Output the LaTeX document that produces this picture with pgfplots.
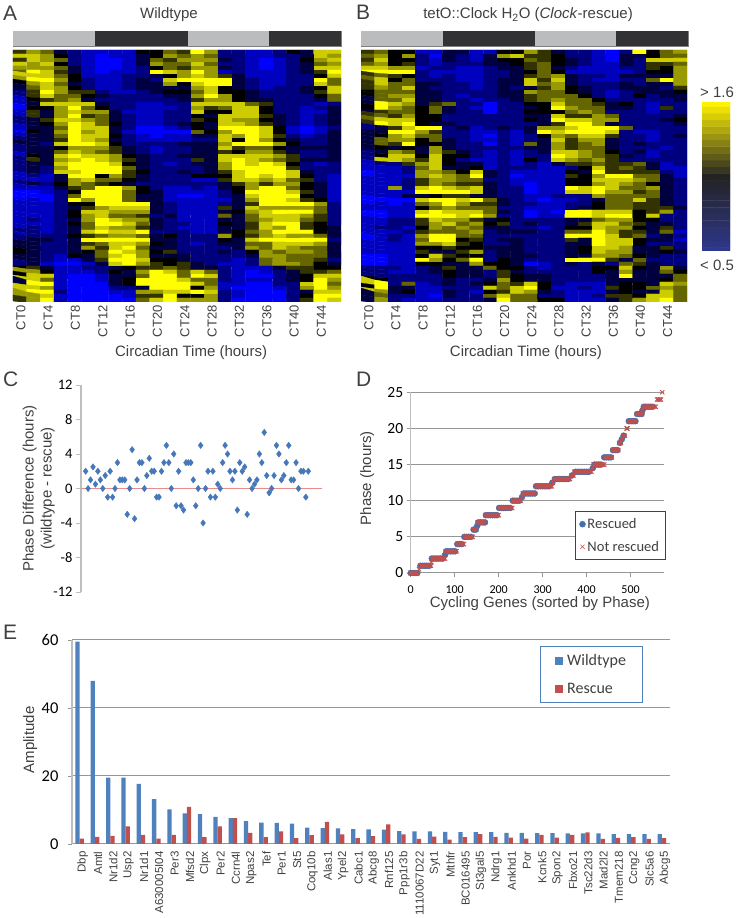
\documentclass[border=0pt]{standalone}
\usepackage{fontspec}
\usepackage{pgfplots}
\usepackage{pgfplotstable}
\pgfplotsset{compat=1.18}
\setmainfont{Liberation Sans}
\newfontfamily\carlito{Carlito}
\definecolor{txt}{RGB}{64,64,64}
\definecolor{dayc}{RGB}{187,188,190}
\definecolor{nightc}{RGB}{50,50,52}
\definecolor{barb}{RGB}{79,129,189}
\definecolor{barr}{RGB}{192,80,77}
\definecolor{ptb}{RGB}{70,120,185}
\definecolor{ptr}{RGB}{235,140,140}
\definecolor{gridc}{RGB}{150,150,150}
\definecolor{axc}{RGB}{190,190,190}
\newcommand\PP[2]{({#1*1pt},{(918-#2)*1pt})}
\newcommand\fs[1]{\fontsize{#1}{#1}\selectfont}
\pgfplotsset{
  colormap={heatm}{rgb255(0)=(0,0,255) rgb255(4)=(0,0,0) rgb255(9)=(255,255,0)},
  colormap={cbarm}{rgb255(0)=(46,56,140) rgb255(10)=(35,35,35) rgb255(20)=(255,242,0)},
  heat/.style={scale only axis, anchor=north west, y dir=reverse,
    xmin=-0.5, xmax=23.5, ymin=-0.5, ymax=62.5, height=252pt,
    axis line style={draw=none}, ytick=\empty,
    xtick={0,2,...,22}, xticklabels={CT0,CT4,CT8,CT12,CT16,CT20,CT24,CT28,CT32,CT36,CT40,CT44},
    major tick length=0pt,
    xticklabel style={rotate=90, anchor=east, font=\fs{13}, text=txt, yshift=-1pt},
    colormap name=heatm, point meta min=0, point meta max=9,
    xlabel={Circadian Time (hours)},
    xlabel style={font=\fs{15}, text=txt, anchor=center}},
  heatplot/.style={matrix plot*, shader=faceted, faceted color=mapped color, line width=0.3pt, mesh/cols=24, point meta=\thisrowno{0}},
  daybar/.style={scale only axis, anchor=north west, height=15pt, xmin=0, xmax=48,
    ymin=-0.5, ymax=0.5, xbar stacked, bar width=15pt, ticks=none,
    axis line style={draw=gray, line width=0.8pt}},
}
\begin{document}
\begin{tikzpicture}[x=1pt,y=1pt]
\useasboundingbox (0,0) rectangle (738,918);
% panel letters
\foreach \l/\x/\y in {A/3/21,B/356/20,C/3/387,D/356/387,E/3/640}
  \node[anchor=base west,inner sep=0pt,text=txt,font=\fs{21}] at \PP{\x}{\y} {\l};
\node[text=txt,font=\fs{15}] at \PP{169}{15} {Wildtype};
\node[text=txt,font=\fs{15}] at \PP{528}{15} {tetO::Clock H\textsubscript{2}O (\textit{Clock}-rescue)};
% day-night bars
\begin{axis}[daybar, at={(13pt,887pt)}, width=328pt]
\addplot[fill=dayc,draw=none] coordinates {(12,0)};
\addplot[fill=nightc,draw=none] coordinates {(13.6,0)};
\addplot[fill=dayc,draw=none] coordinates {(11.9,0)};
\addplot[fill=nightc,draw=none] coordinates {(10.5,0)};
\end{axis}
\begin{axis}[daybar, at={(361pt,887pt)}, width=327pt]
\addplot[fill=dayc,draw=none] coordinates {(12,0)};
\addplot[fill=nightc,draw=none] coordinates {(13.6,0)};
\addplot[fill=dayc,draw=none] coordinates {(11.9,0)};
\addplot[fill=nightc,draw=none] coordinates {(10.5,0)};
\end{axis}
% heatmap A
\begin{axis}[heat, at={(13pt,868pt)}, width=328pt,
  xlabel style={at={(axis description cs:0.543,-0.2)}}]
\addplot[heatplot] table[header=false, row sep=crcr, x expr={mod(\coordindex,24)}, y expr={floor(\coordindex/24)}] {
5\\7\\6\\3\\2\\1\\1\\1\\1\\4\\4\\6\\5\\9\\7\\2\\2\\1\\1\\2\\4\\3\\8\\8\\
8\\8\\7\\4\\2\\1\\0\\1\\1\\3\\4\\7\\6\\7\\6\\2\\2\\1\\1\\2\\2\\3\\8\\7\\
5\\8\\7\\6\\2\\1\\0\\0\\1\\3\\6\\5\\7\\7\\7\\3\\2\\1\\0\\1\\2\\4\\7\\8\\
8\\7\\8\\4\\2\\1\\0\\0\\1\\3\\7\\6\\6\\8\\6\\2\\2\\1\\0\\1\\2\\3\\6\\7\\
7\\7\\7\\6\\3\\1\\0\\0\\1\\2\\4\\6\\5\\7\\7\\3\\2\\1\\0\\1\\2\\3\\8\\8\\
6\\9\\8\\5\\3\\1\\0\\1\\1\\2\\9\\8\\7\\9\\7\\1\\2\\1\\1\\1\\2\\3\\5\\9\\
8\\8\\8\\6\\4\\1\\1\\1\\2\\2\\3\\4\\7\\8\\7\\5\\3\\1\\1\\1\\2\\2\\4\\8\\
7\\9\\9\\7\\4\\2\\1\\1\\2\\3\\2\\8\\9\\9\\9\\9\\3\\2\\1\\1\\2\\2\\9\\6\\
4\\7\\8\\6\\3\\2\\1\\1\\2\\3\\3\\7\\4\\8\\9\\9\\3\\2\\1\\1\\2\\2\\8\\6\\
3\\6\\8\\7\\4\\2\\1\\1\\2\\3\\3\\3\\3\\7\\8\\4\\3\\2\\1\\2\\2\\3\\4\\8\\
2\\5\\9\\7\\5\\5\\2\\1\\1\\2\\3\\4\\4\\6\\8\\4\\4\\3\\2\\2\\2\\3\\5\\8\\
2\\5\\8\\6\\6\\4\\3\\2\\2\\2\\2\\3\\3\\7\\9\\7\\4\\3\\2\\2\\2\\2\\4\\6\\
1\\4\\5\\6\\7\\3\\2\\2\\2\\2\\2\\2\\3\\5\\7\\7\\4\\3\\3\\2\\2\\2\\3\\6\\
1\\3\\8\\8\\8\\8\\3\\2\\2\\1\\1\\2\\2\\8\\8\\8\\8\\6\\5\\2\\2\\2\\1\\2\\
0\\4\\4\\7\\9\\6\\4\\2\\2\\1\\1\\1\\2\\7\\5\\6\\8\\8\\4\\2\\2\\1\\2\\3\\
1\\5\\3\\7\\8\\7\\7\\3\\1\\1\\1\\2\\2\\8\\4\\4\\8\\8\\4\\2\\2\\1\\1\\3\\
1\\5\\3\\7\\9\\5\\6\\3\\2\\1\\1\\2\\2\\4\\3\\8\\8\\8\\5\\3\\2\\1\\2\\3\\
2\\3\\5\\8\\8\\7\\6\\3\\2\\1\\1\\2\\2\\5\\4\\8\\7\\7\\4\\3\\2\\1\\2\\3\\
2\\3\\4\\7\\9\\8\\6\\4\\2\\1\\1\\2\\3\\4\\3\\8\\8\\7\\5\\3\\2\\1\\2\\3\\
1\\3\\3\\6\\9\\8\\8\\3\\2\\0\\0\\1\\2\\4\\3\\9\\9\\9\\8\\4\\1\\0\\1\\2\\
0\\4\\3\\7\\9\\7\\8\\3\\1\\0\\0\\0\\0\\6\\4\\7\\9\\9\\8\\4\\1\\0\\1\\3\\
1\\3\\3\\6\\9\\8\\8\\4\\2\\1\\0\\1\\1\\3\\3\\8\\7\\9\\8\\5\\2\\1\\2\\3\\
2\\3\\3\\5\\9\\8\\7\\3\\2\\1\\1\\1\\1\\2\\2\\8\\4\\9\\7\\4\\3\\2\\2\\3\\
3\\3\\2\\8\\9\\9\\8\\4\\2\\2\\2\\2\\3\\3\\3\\7\\9\\9\\9\\7\\4\\2\\2\\3\\
2\\3\\3\\4\\7\\7\\7\\5\\3\\2\\1\\2\\2\\3\\3\\8\\5\\6\\6\\4\\3\\3\\3\\3\\
2\\3\\3\\6\\8\\7\\6\\5\\3\\2\\1\\2\\2\\3\\3\\5\\4\\7\\7\\5\\3\\2\\2\\3\\
1\\4\\3\\8\\9\\8\\8\\7\\4\\3\\2\\2\\3\\3\\3\\8\\8\\8\\8\\7\\5\\2\\2\\3\\
2\\5\\3\\7\\8\\9\\8\\7\\5\\3\\2\\2\\2\\5\\3\\8\\9\\8\\7\\6\\5\\3\\3\\3\\
2\\3\\3\\8\\9\\9\\9\\8\\4\\3\\2\\1\\2\\3\\3\\7\\9\\8\\9\\8\\4\\2\\1\\2\\
2\\3\\2\\7\\9\\9\\9\\9\\6\\3\\2\\2\\2\\2\\3\\7\\9\\9\\9\\9\\5\\2\\2\\2\\
2\\3\\2\\8\\8\\9\\9\\9\\5\\4\\2\\2\\3\\2\\3\\5\\8\\9\\9\\9\\8\\3\\2\\2\\
1\\2\\1\\3\\9\\9\\4\\7\\5\\3\\2\\2\\2\\4\\4\\4\\8\\9\\8\\9\\8\\4\\2\\1\\
1\\1\\1\\3\\7\\8\\6\\6\\4\\3\\2\\2\\2\\1\\1\\5\\8\\8\\7\\8\\6\\5\\2\\1\\
2\\3\\2\\4\\7\\6\\5\\4\\3\\2\\2\\2\\2\\2\\2\\3\\5\\7\\5\\7\\7\\4\\3\\1\\
1\\1\\1\\3\\5\\6\\9\\9\\7\\4\\2\\1\\1\\2\\1\\3\\4\\7\\9\\9\\6\\4\\3\\1\\
0\\0\\1\\2\\4\\9\\9\\9\\6\\4\\3\\1\\1\\1\\1\\2\\4\\9\\9\\9\\8\\5\\3\\1\\
0\\0\\0\\2\\6\\9\\9\\9\\6\\3\\3\\1\\0\\0\\1\\2\\3\\8\\9\\9\\9\\4\\3\\1\\
0\\1\\0\\2\\9\\7\\9\\9\\6\\3\\3\\1\\1\\1\\1\\1\\3\\7\\9\\9\\8\\5\\4\\1\\
1\\1\\1\\2\\4\\4\\9\\9\\9\\9\\3\\2\\1\\1\\1\\2\\3\\5\\9\\9\\9\\9\\7\\2\\
1\\1\\1\\2\\3\\5\\7\\8\\8\\8\\3\\2\\1\\1\\1\\5\\3\\8\\7\\7\\7\\7\\6\\2\\
1\\1\\1\\2\\4\\8\\8\\7\\7\\7\\3\\2\\1\\1\\1\\3\\4\\7\\8\\9\\9\\9\\6\\2\\
1\\1\\1\\2\\4\\7\\8\\6\\6\\5\\2\\3\\1\\1\\1\\6\\3\\6\\8\\8\\8\\7\\5\\2\\
1\\2\\1\\2\\3\\7\\9\\8\\7\\7\\3\\2\\1\\1\\1\\3\\3\\6\\7\\8\\8\\6\\5\\2\\
1\\1\\1\\2\\4\\6\\9\\9\\8\\6\\3\\2\\2\\1\\1\\4\\3\\5\\8\\9\\9\\5\\4\\2\\
1\\2\\1\\2\\3\\6\\8\\7\\7\\5\\3\\2\\1\\1\\1\\3\\3\\5\\8\\7\\9\\5\\4\\3\\
2\\2\\1\\2\\3\\8\\9\\8\\8\\9\\2\\2\\2\\1\\1\\3\\4\\6\\7\\9\\9\\9\\4\\3\\
1\\2\\2\\2\\4\\5\\6\\7\\7\\6\\3\\4\\2\\2\\2\\7\\4\\5\\7\\8\\7\\7\\6\\3\\
2\\3\\3\\2\\3\\9\\9\\9\\9\\9\\3\\3\\2\\2\\2\\4\\3\\8\\9\\9\\9\\9\\9\\2\\
3\\3\\2\\2\\3\\5\\6\\8\\8\\7\\4\\3\\2\\1\\2\\3\\3\\6\\6\\8\\8\\8\\7\\3\\
3\\3\\2\\2\\3\\7\\5\\8\\9\\6\\3\\3\\2\\2\\2\\2\\3\\7\\6\\8\\7\\6\\6\\3\\
4\\3\\2\\2\\3\\4\\6\\9\\8\\7\\4\\5\\2\\2\\2\\3\\2\\4\\7\\6\\7\\7\\6\\3\\
3\\3\\2\\1\\4\\3\\6\\8\\9\\7\\3\\3\\3\\2\\2\\2\\2\\3\\7\\7\\6\\6\\6\\3\\
3\\3\\2\\1\\1\\3\\5\\9\\9\\8\\4\\4\\3\\2\\2\\2\\1\\2\\6\\7\\6\\6\\5\\2\\
2\\3\\1\\0\\0\\1\\3\\8\\9\\7\\5\\4\\5\\3\\2\\1\\1\\2\\6\\7\\7\\6\\4\\3\\
4\\5\\3\\1\\1\\2\\2\\3\\4\\5\\5\\6\\5\\3\\3\\2\\1\\1\\1\\3\\5\\5\\4\\4\\
7\\7\\4\\1\\1\\1\\2\\4\\3\\7\\9\\8\\6\\8\\6\\2\\1\\0\\1\\2\\3\\5\\5\\6\\
4\\8\\8\\1\\0\\0\\1\\3\\3\\6\\9\\9\\6\\9\\8\\2\\1\\0\\0\\2\\3\\4\\8\\8\\
8\\8\\6\\1\\0\\0\\1\\3\\4\\9\\9\\9\\8\\6\\6\\2\\1\\1\\1\\2\\3\\4\\9\\7\\
3\\9\\9\\1\\0\\0\\0\\3\\4\\9\\9\\9\\9\\8\\6\\1\\1\\0\\0\\2\\2\\8\\9\\6\\
8\\8\\7\\1\\0\\0\\0\\2\\2\\3\\9\\9\\9\\4\\7\\1\\0\\0\\0\\1\\2\\7\\9\\7\\
8\\9\\9\\2\\0\\0\\0\\1\\1\\7\\7\\8\\8\\9\\8\\2\\1\\0\\0\\0\\2\\3\\8\\8\\
7\\7\\8\\1\\0\\0\\0\\0\\1\\5\\5\\9\\4\\4\\7\\2\\1\\0\\0\\0\\2\\4\\9\\9\\
5\\7\\9\\1\\0\\0\\0\\0\\0\\6\\8\\9\\7\\7\\7\\2\\0\\0\\0\\0\\2\\5\\9\\8\\
};
\end{axis}
% heatmap B
\begin{axis}[heat, at={(361pt,868pt)}, width=326pt,
  xlabel style={at={(axis description cs:0.506,-0.2)}}]
\addplot[heatplot] table[header=false, row sep=crcr, x expr={mod(\coordindex,24)}, y expr={floor(\coordindex/24)}] {
5\\6\\4\\4\\1\\1\\3\\3\\1\\1\\4\\4\\7\\5\\3\\2\\2\\1\\0\\2\\9\\4\\6\\7\\
6\\7\\4\\7\\2\\0\\3\\2\\1\\3\\7\\8\\5\\5\\4\\2\\2\\1\\0\\3\\3\\4\\6\\6\\
5\\8\\4\\4\\2\\1\\3\\2\\1\\3\\4\\4\\6\\5\\4\\3\\2\\1\\0\\3\\2\\8\\8\\8\\
6\\7\\4\\5\\2\\1\\2\\2\\2\\3\\3\\4\\5\\6\\4\\3\\2\\1\\1\\3\\2\\5\\5\\6\\
8\\8\\7\\7\\1\\2\\2\\1\\1\\2\\3\\3\\5\\6\\3\\2\\1\\1\\1\\2\\2\\5\\4\\7\\
9\\9\\9\\9\\2\\1\\1\\1\\1\\2\\2\\3\\4\\6\\4\\1\\1\\1\\1\\1\\2\\4\\4\\7\\
5\\6\\5\\4\\2\\1\\2\\1\\1\\2\\2\\3\\5\\6\\7\\3\\2\\2\\1\\3\\3\\3\\3\\7\\
6\\8\\4\\6\\2\\2\\2\\1\\1\\2\\3\\3\\8\\5\\8\\3\\2\\1\\1\\2\\2\\6\\9\\7\\
5\\8\\6\\6\\3\\3\\2\\2\\1\\2\\3\\3\\8\\6\\7\\3\\2\\2\\2\\3\\2\\3\\3\\7\\
5\\7\\6\\8\\3\\2\\2\\2\\1\\2\\3\\2\\3\\5\\7\\4\\3\\2\\2\\3\\3\\3\\2\\5\\
4\\6\\6\\6\\3\\3\\2\\2\\2\\2\\3\\3\\7\\6\\6\\4\\3\\2\\1\\2\\3\\3\\3\\4\\
4\\6\\7\\7\\3\\3\\2\\1\\2\\2\\3\\3\\5\\6\\6\\6\\4\\2\\1\\2\\4\\2\\3\\3\\
3\\6\\6\\8\\3\\3\\2\\2\\1\\2\\2\\3\\5\\6\\7\\6\\6\\4\\2\\2\\2\\2\\2\\3\\
3\\9\\8\\7\\3\\5\\6\\2\\2\\0\\2\\2\\4\\4\\8\\6\\6\\5\\3\\4\\2\\1\\2\\2\\
4\\9\\7\\6\\4\\6\\3\\2\\1\\0\\2\\2\\3\\4\\9\\7\\6\\6\\3\\3\\2\\1\\5\\2\\
3\\5\\6\\6\\4\\6\\3\\2\\2\\0\\2\\2\\4\\4\\4\\6\\7\\6\\2\\2\\2\\1\\2\\2\\
5\\6\\5\\7\\4\\4\\2\\2\\2\\2\\2\\2\\3\\3\\8\\5\\5\\7\\6\\2\\2\\2\\2\\3\\
6\\8\\8\\8\\4\\4\\2\\2\\2\\2\\2\\2\\4\\3\\9\\8\\8\\7\\7\\2\\2\\2\\3\\4\\
5\\9\\8\\9\\4\\3\\3\\2\\2\\2\\2\\2\\2\\3\\5\\9\\9\\7\\3\\2\\2\\2\\2\\3\\
2\\3\\5\\8\\9\\9\\2\\3\\1\\2\\3\\2\\3\\7\\7\\8\\9\\9\\9\\6\\2\\2\\2\\2\\
3\\3\\9\\9\\7\\5\\2\\2\\1\\1\\2\\1\\3\\9\\8\\9\\9\\9\\8\\2\\1\\1\\2\\2\\
3\\4\\7\\8\\6\\6\\2\\2\\1\\0\\2\\1\\2\\4\\7\\6\\8\\8\\5\\2\\2\\1\\2\\3\\
3\\6\\7\\7\\4\\6\\3\\2\\1\\1\\2\\1\\2\\3\\8\\5\\7\\7\\3\\2\\2\\1\\2\\2\\
3\\6\\5\\9\\4\\4\\3\\2\\2\\0\\2\\1\\6\\3\\7\\5\\6\\7\\3\\2\\3\\2\\2\\2\\
3\\4\\3\\4\\3\\7\\3\\2\\2\\2\\2\\2\\3\\3\\7\\5\\6\\6\\3\\2\\2\\2\\1\\2\\
2\\3\\7\\6\\3\\7\\5\\3\\2\\1\\2\\1\\2\\3\\8\\8\\7\\6\\4\\2\\3\\1\\2\\2\\
2\\4\\8\\8\\4\\8\\4\\4\\2\\1\\2\\1\\2\\2\\9\\8\\7\\6\\5\\3\\2\\1\\2\\2\\
2\\8\\8\\7\\5\\8\\4\\2\\1\\1\\2\\1\\4\\2\\8\\7\\6\\7\\5\\2\\2\\2\\2\\2\\
1\\2\\2\\5\\7\\8\\4\\3\\3\\1\\2\\1\\2\\1\\3\\5\\5\\6\\5\\5\\6\\3\\1\\2\\
1\\1\\1\\2\\6\\8\\3\\3\\4\\1\\2\\2\\2\\1\\1\\2\\4\\8\\5\\6\\5\\3\\1\\1\\
0\\1\\1\\2\\7\\7\\6\\4\\8\\3\\2\\1\\1\\1\\1\\4\\3\\9\\5\\5\\5\\5\\2\\1\\
0\\1\\1\\1\\7\\8\\7\\6\\9\\3\\2\\0\\1\\1\\1\\5\\4\\7\\9\\9\\6\\6\\3\\1\\
1\\1\\1\\2\\5\\7\\7\\6\\6\\2\\2\\1\\1\\1\\1\\4\\4\\8\\8\\8\\7\\6\\3\\2\\
1\\1\\1\\2\\5\\7\\6\\5\\5\\3\\2\\1\\0\\1\\1\\4\\4\\7\\8\\7\\6\\4\\3\\2\\
1\\1\\7\\2\\8\\9\\8\\7\\8\\3\\2\\2\\0\\1\\1\\9\\8\\9\\8\\6\\6\\7\\3\\2\\
1\\1\\1\\1\\9\\9\\9\\9\\8\\3\\2\\2\\0\\1\\1\\8\\8\\9\\7\\7\\5\\6\\3\\2\\
1\\1\\1\\3\\3\\4\\5\\5\\3\\3\\2\\2\\1\\1\\2\\2\\2\\7\\6\\6\\6\\6\\3\\2\\
0\\0\\0\\0\\8\\9\\9\\8\\9\\6\\3\\2\\1\\0\\1\\1\\2\\3\\6\\6\\8\\5\\3\\2\\
0\\1\\0\\1\\6\\7\\9\\7\\5\\5\\3\\2\\2\\1\\1\\2\\2\\4\\6\\6\\5\\5\\3\\2\\
1\\1\\1\\1\\4\\6\\7\\6\\6\\6\\2\\2\\1\\1\\1\\2\\3\\4\\6\\6\\5\\5\\5\\3\\
0\\0\\1\\1\\8\\9\\8\\8\\8\\6\\3\\2\\0\\1\\0\\9\\9\\8\\8\\8\\4\\5\\7\\2\\
0\\0\\1\\1\\9\\9\\9\\8\\9\\7\\2\\2\\0\\1\\1\\9\\9\\8\\9\\9\\4\\8\\2\\2\\
1\\1\\2\\2\\5\\8\\7\\7\\5\\3\\4\\2\\2\\2\\2\\3\\3\\6\\7\\7\\4\\4\\2\\2\\
1\\1\\2\\2\\5\\7\\8\\6\\7\\4\\5\\2\\3\\2\\2\\3\\5\\8\\8\\6\\5\\3\\3\\2\\
1\\2\\2\\1\\4\\7\\6\\7\\6\\3\\3\\2\\2\\1\\2\\4\\4\\8\\7\\7\\4\\3\\5\\2\\
1\\1\\1\\2\\5\\6\\6\\6\\7\\2\\3\\3\\3\\2\\2\\6\\6\\9\\7\\5\\5\\3\\6\\1\\
1\\1\\2\\1\\7\\9\\9\\6\\6\\2\\2\\2\\2\\2\\2\\9\\9\\9\\8\\5\\6\\2\\3\\2\\
0\\1\\2\\1\\6\\9\\9\\4\\5\\2\\3\\3\\2\\2\\2\\5\\3\\9\\8\\8\\4\\3\\3\\1\\
1\\1\\1\\1\\7\\7\\8\\5\\4\\2\\2\\3\\2\\2\\2\\3\\3\\9\\8\\8\\4\\2\\2\\2\\
1\\1\\1\\1\\4\\4\\5\\4\\4\\3\\3\\3\\2\\2\\2\\3\\4\\8\\8\\7\\3\\3\\5\\2\\
1\\1\\1\\1\\5\\3\\3\\5\\7\\2\\3\\3\\2\\2\\2\\3\\4\\8\\7\\7\\3\\3\\4\\3\\
0\\0\\1\\1\\4\\8\\5\\4\\4\\2\\3\\3\\3\\2\\2\\3\\3\\7\\7\\6\\4\\3\\2\\2\\
0\\0\\1\\1\\9\\7\\4\\6\\9\\2\\4\\3\\2\\2\\2\\9\\9\\9\\5\\3\\6\\2\\2\\2\\
0\\0\\1\\1\\4\\4\\3\\3\\7\\4\\4\\3\\0\\1\\2\\3\\2\\3\\2\\6\\5\\3\\2\\2\\
2\\2\\2\\1\\2\\3\\5\\3\\3\\6\\4\\4\\2\\1\\2\\2\\2\\4\\4\\8\\4\\3\\7\\3\\
2\\2\\1\\1\\2\\3\\4\\3\\3\\2\\5\\3\\2\\2\\2\\2\\2\\4\\3\\7\\3\\3\\6\\4\\
2\\2\\2\\2\\2\\2\\4\\3\\3\\2\\5\\4\\3\\3\\2\\2\\2\\2\\3\\9\\3\\3\\3\\6\\
4\\4\\2\\2\\2\\2\\3\\2\\2\\3\\7\\4\\3\\3\\2\\2\\2\\2\\3\\3\\3\\3\\4\\6\\
8\\9\\2\\6\\1\\2\\3\\2\\3\\4\\6\\5\\8\\4\\2\\1\\1\\1\\3\\4\\4\\3\\8\\7\\
4\\9\\3\\3\\1\\1\\2\\2\\2\\8\\6\\8\\9\\4\\1\\1\\2\\1\\5\\4\\4\\6\\7\\6\\
8\\7\\3\\4\\1\\1\\3\\2\\1\\4\\5\\8\\7\\3\\2\\1\\1\\1\\3\\4\\3\\3\\8\\6\\
3\\6\\2\\2\\1\\0\\3\\2\\2\\6\\8\\6\\6\\2\\2\\1\\1\\2\\5\\5\\4\\8\\8\\6\\
3\\7\\2\\1\\1\\1\\2\\2\\2\\3\\9\\6\\6\\4\\4\\1\\1\\1\\3\\5\\7\\8\\9\\6\\
};
\end{axis}
% colour bar
\begin{axis}[scale only axis, anchor=north west, at={(702pt,815pt)}, width=28pt, height=148pt,
  xmin=-0.5, xmax=1.5, ymin=0.5, ymax=1.6, ticks=none, axis line style={draw=none},
  colormap name=cbarm, point meta min=0.5, point meta max=1.6, clip=true]
\addplot[matrix plot*, shader=faceted, faceted color=mapped color, line width=0.4pt, mesh/cols=2, point meta=y] table[row sep=crcr] {
x y\\
0 0.5\\ 1 0.5\\ 0 0.55\\ 1 0.55\\ 0 0.6\\ 1 0.6\\ 0 0.65\\ 1 0.65\\ 0 0.7\\ 1 0.7\\ 0 0.75\\ 1 0.75\\
0 0.8\\ 1 0.8\\ 0 0.85\\ 1 0.85\\ 0 0.9\\ 1 0.9\\ 0 0.95\\ 1 0.95\\ 0 1.0\\ 1 1.0\\ 0 1.05\\ 1 1.05\\
0 1.1\\ 1 1.1\\ 0 1.15\\ 1 1.15\\ 0 1.2\\ 1 1.2\\ 0 1.25\\ 1 1.25\\ 0 1.3\\ 1 1.3\\ 0 1.35\\ 1 1.35\\
0 1.4\\ 1 1.4\\ 0 1.45\\ 1 1.45\\ 0 1.5\\ 1 1.5\\ 0 1.55\\ 1 1.55\\ 0 1.6\\ 1 1.6\\
};
\end{axis}
\node[text=txt,font=\fs{15}] at \PP{717}{92} {> 1.6};
\node[text=txt,font=\fs{15}] at \PP{717}{265} {< 0.5};
% panel C
\begin{axis}[scale only axis, anchor=north west, at={(81pt,533pt)}, width=241pt, height=207pt,
  xmin=-0.9, xmax=97.6, ymin=-12, ymax=12, clip=false,
  axis x line=none, axis y line=left,
  y axis line style={-, draw=axc, line width=1.5pt},
  ytick={-12,-8,...,12}, tick align=outside, major tick length=5pt,
  tick style={draw=axc, line width=0.8pt},
  yticklabel style={font=\carlito\fs{14.5}, /pgf/number format/assume math mode=true, text=black},
  ylabel={\renewcommand\arraystretch{1.2}\begin{tabular}{c}Phase Difference (hours)\\(wildtype - rescue)\end{tabular}},
  ylabel style={font=\fs{15}, text=txt, at={(axis description cs:-0.174,0.5)}, anchor=center}]
\addplot[ptr, line width=1.6pt] coordinates {(-0.9,0)(97.6,0)};
\addplot[only marks, mark=diamond*, mark size=3.2pt, color=ptb] coordinates {
(1,2)(2,0)(3,1)(4,2.5)(5,0.5)(6,2)(7,1)(8,0)(9,1.5)(10,-1)(11,2)(12,-1)(13,0)(14,3)(15,1)(16,1)(17,1)(18,-3)(19,0)(20,4.5)(21,-3.5)(22,1)(23,3)(24,3)(25,0)(26,1.5)(27,3.5)(28,2)(29,2)(30,-1)(31,-1)(32,2)(33,3)(34,5)(35,3)(36,0)(37,4)(38,-2)(39,2)(40,-2)(41,-2.5)(42,3)(43,3)(44,3)(45,1)(46,-2)(47,0)(48,5)(49,-4)(50,0)(51,2)(52,-1)(53,2)(54,-1)(55,0.5)(56,0)(57,3)(58,5)(59,4)(60,2)(61,1)(62,2)(63,-2.5)(64,3)(65,2)(66,2.5)(67,-3)(68,1)(69,0)(70,0.5)(71,1)(72,4)(73,3)(74,6.5)(75,1.5)(76,-0.5)(77,0)(78,1.5)(79,5)(80,4)(81,1)(82,1.5)(83,3)(84,5)(85,1)(86,1)(87,3)(88,0)(89,2)(90,2)(91,-1)(92,2)};
\end{axis}
% panel D
\begin{axis}[scale only axis, anchor=north west, at={(410.7pt,525.7pt)}, width=253.3pt, height=180.7pt,
  xmin=0, xmax=576, ymin=0, ymax=25, clip=false,
  axis x line=bottom, axis y line=left,
  x axis line style={-, draw=gridc, line width=1pt},
  y axis line style={-, draw=axc, line width=1.2pt},
  xtick={0,100,...,500}, ytick={0,5,...,25}, tick align=outside, major tick length=4pt,
  tick style={draw=gridc, line width=0.8pt},
  ymajorgrids, major grid style={draw=gridc, line width=1pt},
  yticklabel style={font=\carlito\fs{15.5}, /pgf/number format/assume math mode=true, text=black},
  xticklabel style={font=\carlito\fs{12}, /pgf/number format/assume math mode=true, text=black, yshift=-5pt},
  xlabel={Cycling Genes (sorted by Phase)},
  xlabel style={font=\fs{15}, text=txt, at={(axis description cs:0.51,-0.168)}, anchor=center},
  ylabel={Phase (hours)},
  ylabel style={font=\fs{15}, text=txt, at={(axis description cs:-0.172,0.525)}, anchor=center},
  legend style={at={(axis description cs:0.649,0.343)}, anchor=north west, draw={rgb,255:red,40;green,70;blue,110},
    line width=0.8pt, font=\carlito\fs{14.5}, fill=white, inner xsep=4pt, inner ysep=5pt, row sep=7pt, text=txt},
  legend cell align=left,
  legend image code/.code={\draw[mark repeat=2,mark phase=2,#1,mark options={line width=0.4pt}] plot coordinates {(0pt,0pt)(7pt,0pt)(10pt,0pt)};}]
\addplot[only marks, mark=*, mark size=3pt, color={rgb,255:red,70;green,110;blue,170}] coordinates {
(0,0)(5,0)(10,0)(15,0)(22,1)(27,1)(32,1)(37,1)(42,1)(48,2)(53,2)(58,2)(63,2)(68,2)(73,2)(78,2.5)(81,3)(86,3)(91,3)(96,3)(101,3)(106,4)(111,4)(116,4)(122,5)(127,5)(132,5)(137,5)(143,6)(148,6)(151,6.5)(154,7)(159,7)(164,7)(169,7)(171,8)(176,8)(181,8)(186,8)(191,8)(196,8)(201,9)(206,9)(211,9)(216,9)(221,9)(226,9)(232,10)(237,10)(242,10)(247,10)(253,10.5)(257,11)(262,11)(267,11)(272,11)(277,11)(282,11)(285,12)(290,12)(295,12)(300,12)(305,12)(310,12)(315,12)(322,12.5)(328,13)(333,13)(338,13)(343,13)(348,13)(353,13)(358,13)(367,13.5)(375,14)(380,14)(385,14)(390,14)(395,14)(400,14)(405,14)(414,14.5)(418,15)(423,15)(428,15)(433,15)(440,16)(445,16)(450,16)(455,16)(460,17)(465,17)(470,17)(476,18)(480,18.5)(484,19)(496,21)(501,21)(506,21)(511,21)(515,22)(520,22)(525,22)(527,22.5)(530,23)(535,23)(540,23)(545,23)(550,23)};
\addlegendentry{Rescued}
\addplot[only marks, mark=x, mark size=3pt, mark options={line width=0.9pt}, color=barr] coordinates {
(0,0)(3,0)(6,0)(9,0)(12,0)(15,0)(19,0.5)(22,1)(25,1)(28,1)(31,1)(34,1)(37,1)(40,1)(43,1)(46,1)(47,1.5)(49,2)(52,2)(55,2)(58,2)(61,2)(64,2)(67,2)(70,2)(73,2)(76,2)(78,2)(80,3)(83,3)(86,3)(89,3)(92,3)(95,3)(98,3)(101,3)(104,3)(106,4)(109,4)(112,4)(115,4)(118,4)(121,4)(123,5)(126,5)(129,5)(132,5)(135,5)(138,5)(141,5)(143,6)(146,6)(149,6)(152,7)(155,7)(158,7)(161,7)(164,7)(167,7)(170,8)(173,8)(176,8)(179,8)(182,8)(185,8)(188,8)(191,8)(194,8)(197,8)(200,8)(201,9)(204,9)(207,9)(210,9)(213,9)(216,9)(219,9)(222,9)(225,9)(228,9)(231,9)(232,10)(235,10)(238,10)(241,10)(244,10)(247,10)(250,10)(254,10.5)(255,11)(258,11)(261,11)(264,11)(267,11)(270,11)(273,11)(276,11)(279,11)(282,11)(285,12)(288,12)(291,12)(294,12)(297,12)(300,12)(303,12)(306,12)(309,12)(312,12)(315,12)(318,12)(321,12)(323,12.5)(326,13)(329,13)(332,13)(335,13)(338,13)(341,13)(344,13)(347,13)(350,13)(353,13)(356,13)(359,13)(362,13)(366,13.5)(370,13.5)(372,14)(375,14)(378,14)(381,14)(384,14)(387,14)(390,14)(393,14)(396,14)(399,14)(402,14)(405,14)(408,14)(411,14)(414,14.5)(416,15)(419,15)(422,15)(425,15)(428,15)(431,15)(434,15)(437,15)(440,15)(442,16)(445,16)(448,16)(451,16)(454,16)(457,16)(460,17)(463,17)(466,17)(469,17)(472,17)(474,18)(478,18)(480,18.5)(484,19)(487,19)(491,20)(493,20)(496,21)(499,21)(502,21)(505,21)(508,21)(511,21)(514,22)(517,22)(520,22)(523,22)(526,22)(527,22.5)(530,23)(533,23)(536,23)(539,23)(542,23)(545,23)(548,23)(551,23)(554,23)(557,23)(560,24)(563,24)(566,24)(569,24)(572,25)};
\addlegendentry{Not rescued}
\end{axis}
% panel E
\begin{axis}[scale only axis, anchor=north west, at={(72pt,278pt)}, width=598pt, height=204pt,
  xmin=-0.5, xmax=38.53, ymin=0, ymax=60, clip=false,
  axis x line=bottom, axis y line=left,
  x axis line style={-, draw=gridc, line width=1pt},
  y axis line style={-, draw=axc, line width=1.5pt},
  ybar=0pt, bar width=4.3pt,
  xtick={0,1,...,38},
  xticklabels={Dbp,Amtl,Nr1d2,Usp2,Nr1d1,A630005I04,Per3,Mfsd2,Clpx,Per2,Ccrn4l,Npas2,Tef,Per1,St5,Coq10b,Alas1,Ypel2,Cabc1,Abcg8,Rnf125,Ppp1r3b,1110067D22,Syt1,Mthfr,BC016495,St3gal5,Ndrg1,Ankhd1,Por,Kcnk5,Spon2,Fbxo21,Tsc22d3,Mad2l2,Tmem218,Ccng2,Slc5a6,Abcg5},
  x tick style={draw=none},
  xticklabel style={rotate=90, anchor=east, font=\fs{11.5}, text=txt, yshift=-3pt},
  ytick={0,20,40,60}, tick align=outside, major tick length=4pt,
  y tick style={draw=gridc, line width=0.8pt},
  ymajorgrids, major grid style={draw=gridc, line width=1pt},
  yticklabel style={font=\carlito\fs{16.5}, /pgf/number format/assume math mode=true, text=black, xshift=-6pt},
  ylabel={Amplitude},
  ylabel style={font=\fs{15}, text=txt, at={(axis description cs:-0.07,0.51)}, anchor=center},
  legend style={at={(axis description cs:0.783,0.97)}, anchor=north west, draw=barb, line width=0.8pt,
    font=\carlito\fs{16}, fill=white, inner xsep=14.5pt, inner ysep=6pt, row sep=12pt, text=txt},
  legend cell align=left,
  legend image code/.code={\fill[#1] (0pt,-4pt) rectangle (8pt,4pt); \path (0pt,0pt) -- (10pt,0pt);}]
\addplot[fill=barb, draw=none] coordinates {(0,59.5)(1,48)(2,19.5)(3,19.5)(4,17.7)(5,13.2)(6,10.2)(7,9)(8,8.8)(9,8)(10,7.6)(11,6.7)(12,6.3)(13,6.2)(14,6)(15,4.8)(16,4.7)(17,4.6)(18,4.4)(19,4.3)(20,4.2)(21,3.8)(22,3.7)(23,3.7)(24,3.6)(25,3.5)(26,3.5)(27,3.5)(28,3.3)(29,3.3)(30,3.2)(31,3.2)(32,3.1)(33,3.1)(34,3.1)(35,2.9)(36,2.9)(37,2.9)(38,2.9)};
\addlegendentry{Wildtype}
\addplot[fill=barr, draw=none] coordinates {(0,1.6)(1,2.1)(2,2.4)(3,5.2)(4,2.7)(5,1.6)(6,2.7)(7,10.9)(8,2)(9,5.2)(10,7.6)(11,3.3)(12,2)(13,3.7)(14,1.7)(15,2.6)(16,6.5)(17,2.8)(18,1.7)(19,2.3)(20,5.8)(21,2.8)(22,1.5)(23,2.2)(24,1.3)(25,2)(26,2.9)(27,2.1)(28,1.9)(29,1.6)(30,2.7)(31,1.9)(32,2.7)(33,3.4)(34,1.5)(35,1.8)(36,2)(37,1.5)(38,1.7)};
\addlegendentry{Rescue}
\end{axis}
\end{tikzpicture}
\end{document}
